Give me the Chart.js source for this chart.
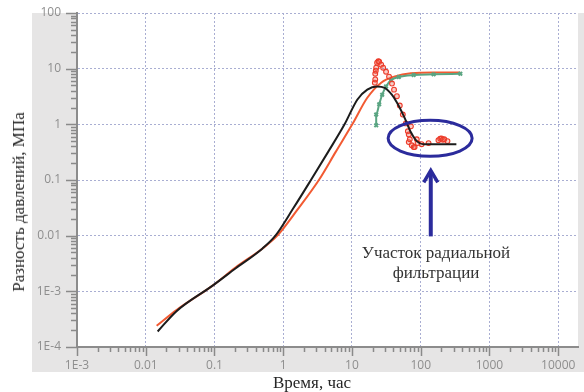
<!DOCTYPE html>
<html lang="ru">
<head>
<meta charset="utf-8">
<title>Разность давлений</title>
<script src="https://cdn.jsdelivr.net/npm/chart.js@4/dist/chart.umd.min.js"></script>
<style>
    body { margin: 0; background: #fff; }
    #wrap { position: relative; width: 584px; height: 392px; overflow: hidden; }
    .serif { position: absolute; font-family: 'Liberation Serif', serif; color: #262626; white-space: nowrap; }
    #note { left: 346px; top: 243px; width: 180px; text-align: center; font-size: 17px; line-height: 20px; color: #333; }
    #xTitle { left: 312px; top: 383px; font-size: 17px; transform: translate(-50%, -50%); }
    #yTitle { left: 19px; top: 202px; font-size: 17px; transform: translate(-50%, -50%) rotate(-90deg); }
</style>
</head>
<body>
<div id="wrap">
    <canvas id="pressureChart" width="584" height="392"></canvas>
    <div id="note" class="serif">Участок радиальной<br>фильтрации</div>
    <div id="xTitle" class="serif">Время, час</div>
    <div id="yTitle" class="serif">Разность давлений, МПа</div>
</div>
<script>
// time, h / pressure difference, MPa
const blackTime = [0.0149, 0.028, 0.095, 0.204, 0.5, 0.77, 1.4, 2.53, 4.5, 7.8, 12, 16.7, 23, 30, 38, 45, 57, 72, 87.6, 110, 154, 330];
const blackDp = [1.9e-4, 4.4e-4, 1.28e-3, 2.6e-3, 5.9e-3, 0.01, 0.031, 0.1, 0.32, 1.0, 2.8, 4.2, 4.8, 4.5, 3.4, 2.47, 1.39, 0.72, 0.50, 0.44, 0.44, 0.44];

const orangeTime = [0.0144, 0.028, 0.095, 0.204, 0.5, 0.82, 1.6, 3.3, 5.8, 10.1, 16.7, 26.6, 40.9, 72, 154, 377];
const orangeDp = [2.4e-4, 4.6e-4, 1.28e-3, 2.7e-3, 5.9e-3, 0.01, 0.029, 0.1, 0.32, 1.0, 3.0, 5.6, 7.2, 8.3, 8.5, 8.5];

const greenTime = [22.5, 22.5, 24.9, 27.5, 31.3, 36.9, 48, 79, 154, 377];
const greenDp = [0.96, 1.5, 2.3, 3.4, 4.8, 6.2, 7.1, 7.7, 7.9, 8.1];

const redTime = [21.5, 21.8, 21.8, 22.2, 22.5, 23.2, 24.2, 24.9, 26.6, 28.4, 31.3, 34.6, 38.2, 40.9, 45, 49.6, 54.9, 60.7, 65, 67, 67, 69.4, 72, 74, 79, 81.5, 87.6, 90, 103, 130, 181, 192, 200, 210, 220, 245];
const redDp = [5.6, 6.4, 8.1, 9.2, 10.4, 12.8, 13.6, 13.3, 11.8, 10.4, 8.8, 7.2, 5.4, 4.2, 3.2, 2.18, 1.5, 1.04, 0.75, 0.66, 0.48, 0.54, 0.92, 0.42, 0.39, 0.39, 0.54, 0.46, 0.44, 0.46, 0.52, 0.55, 0.56, 0.53, 0.54, 0.50];

const xTickLabels = ['1E-3', '0.01', '0.1', '1', '10', '100', '1000', '10000'];
const yTickLabels = ['1E-4', '1E-3', '0.01', '0.1', '1', '10', '100'];

const toPoints = (xs, ys) => xs.map((x, i) => ({ x: x, y: ys[i] }));

const decade = (v) => {
    const e = Math.log10(v);
    const r = Math.round(e);
    return Math.abs(e - r) < 1e-6 ? r : null;
};

// grey frame, minor/major tick marks, ellipse and arrow
const framePlugin = {
    id: 'frame',
    beforeDraw(chart) {
        const { ctx, chartArea: a } = chart;
        ctx.save();
        ctx.fillStyle = '#e6e5e5';
        ctx.fillRect(a.left - 45, a.top, chart.width - a.left + 45, a.bottom - a.top + 25);
        ctx.fillStyle = '#fff';
        ctx.fillRect(a.left, a.top, a.right - a.left, a.bottom - a.top);
        ctx.restore();
    },
    afterDraw(chart) {
        const { ctx, chartArea: a, scales } = chart;
        ctx.save();
        ctx.strokeStyle = '#8a8a8a';
        ctx.lineWidth = 1.5;
        ctx.beginPath();
        for (let k = -4; k <= 2; k++) {
            for (let m = 1; m <= 9; m++) {
                const v = m * Math.pow(10, k);
                if (v > 100.0001) continue;
                const y = Math.round(scales.y.getPixelForValue(v)) + 0.5;
                ctx.moveTo(a.left, y);
                ctx.lineTo(a.left - (m === 1 ? 11 : 6), y);
            }
        }
        for (let k = -3; k <= 4; k++) {
            for (let m = 1; m <= 9; m++) {
                const v = m * Math.pow(10, k);
                if (v > scales.x.max) continue;
                const x = Math.round(scales.x.getPixelForValue(v)) + 0.5;
                ctx.moveTo(x, a.bottom);
                ctx.lineTo(x, a.bottom + (m === 1 ? 9 : 5));
            }
        }
        ctx.stroke();

        // radial flow region
        const cx = scales.x.getPixelForValue(137);
        const cy = scales.y.getPixelForValue(0.56);
        ctx.strokeStyle = '#2b2b9c';
        ctx.lineWidth = 3;
        ctx.beginPath();
        ctx.ellipse(cx, cy, 42, 18, 0, 0, Math.PI * 2);
        ctx.stroke();

        const ax = scales.x.getPixelForValue(140);
        const yTop = scales.y.getPixelForValue(0.155);
        const yBottom = scales.y.getPixelForValue(0.0097);
        ctx.lineWidth = 4;
        ctx.beginPath();
        ctx.moveTo(ax, yBottom);
        ctx.lineTo(ax, yTop + 4);
        ctx.stroke();
        ctx.lineWidth = 3.5;
        ctx.lineJoin = 'miter';
        ctx.beginPath();
        ctx.moveTo(ax - 7, yTop + 13);
        ctx.lineTo(ax, yTop + 1);
        ctx.lineTo(ax + 7, yTop + 13);
        ctx.stroke();
        ctx.restore();
    }
};

const tickFont = { family: "'Open Sans', sans-serif", size: 12 };
const gridColor = (c) => decade(c.tick.value) !== null ? '#a9aed2' : 'transparent';

var ctx = document.getElementById('pressureChart').getContext('2d');
// eslint-disable-next-line no-undef
var pressureChart = new Chart(ctx, {
    type: 'line',
    data: {
        datasets: [{
                label: 'black',
                data: toPoints(blackTime, blackDp),
                borderColor: '#1c1c1c',
                borderWidth: 2,
                pointRadius: 0,
                cubicInterpolationMode: 'monotone',
        },
        {
                label: 'red',
                data: toPoints(redTime, redDp),
                showLine: false,
                pointStyle: 'circle',
                pointRadius: 2.4,
                pointBorderWidth: 1.1,
                pointBorderColor: '#ec3b2a',
                pointBackgroundColor: 'rgba(240, 90, 70, 0.3)',
        },
        {
                label: 'green',
                data: toPoints(greenTime, greenDp),
                borderColor: '#5aa582',
                borderWidth: 2,
                pointStyle: 'crossRot',
                pointRadius: 2.5,
                pointBorderColor: '#5aa582',
                cubicInterpolationMode: 'monotone',
        },
        {
                label: 'orange',
                data: toPoints(orangeTime, orangeDp),
                borderColor: '#f25a32',
                borderWidth: 2,
                pointRadius: 0,
                cubicInterpolationMode: 'monotone',
        }
    ]
    },
    options: {
        responsive: false,
        animation: false,
        layout: { padding: { top: 13, right: 0, bottom: 0, left: 0 } },
        plugins: { legend: { display: false }, tooltip: { enabled: false } },
        scales: {
            x: {
                type: 'logarithmic',
                min: 0.001,
                max: 19400,
                afterFit: (s) => { s.height = 45; s.paddingLeft = 0; s.paddingRight = 0; },
                border: { color: '#8c8c8c', width: 2, dash: [2, 2] },
                grid: { color: gridColor, lineWidth: 1, drawTicks: false },
                ticks: {
                    autoSkip: false, maxRotation: 0, padding: 11,
                    color: '#8e8e8e', font: tickFont,
                    callback: (v) => { const d = decade(v); return d === null ? '' : (xTickLabels[d + 3] || ''); }
                }
            },
            y: {
                type: 'logarithmic',
                min: 0.0001,
                max: 100,
                afterFit: (s) => { s.width = 77; s.paddingTop = 0; s.paddingBottom = 0; },
                border: { color: '#8c8c8c', width: 2, dash: [2, 2] },
                grid: { color: gridColor, lineWidth: 1, drawTicks: false },
                ticks: {
                    autoSkip: false, padding: 16,
                    color: '#8e8e8e', font: tickFont,
                    callback: (v) => { const d = decade(v); return d === null ? '' : (yTickLabels[d + 4] || ''); }
                }
            }
        }
    },
    plugins: [framePlugin]
});
</script>
</body>
</html>
